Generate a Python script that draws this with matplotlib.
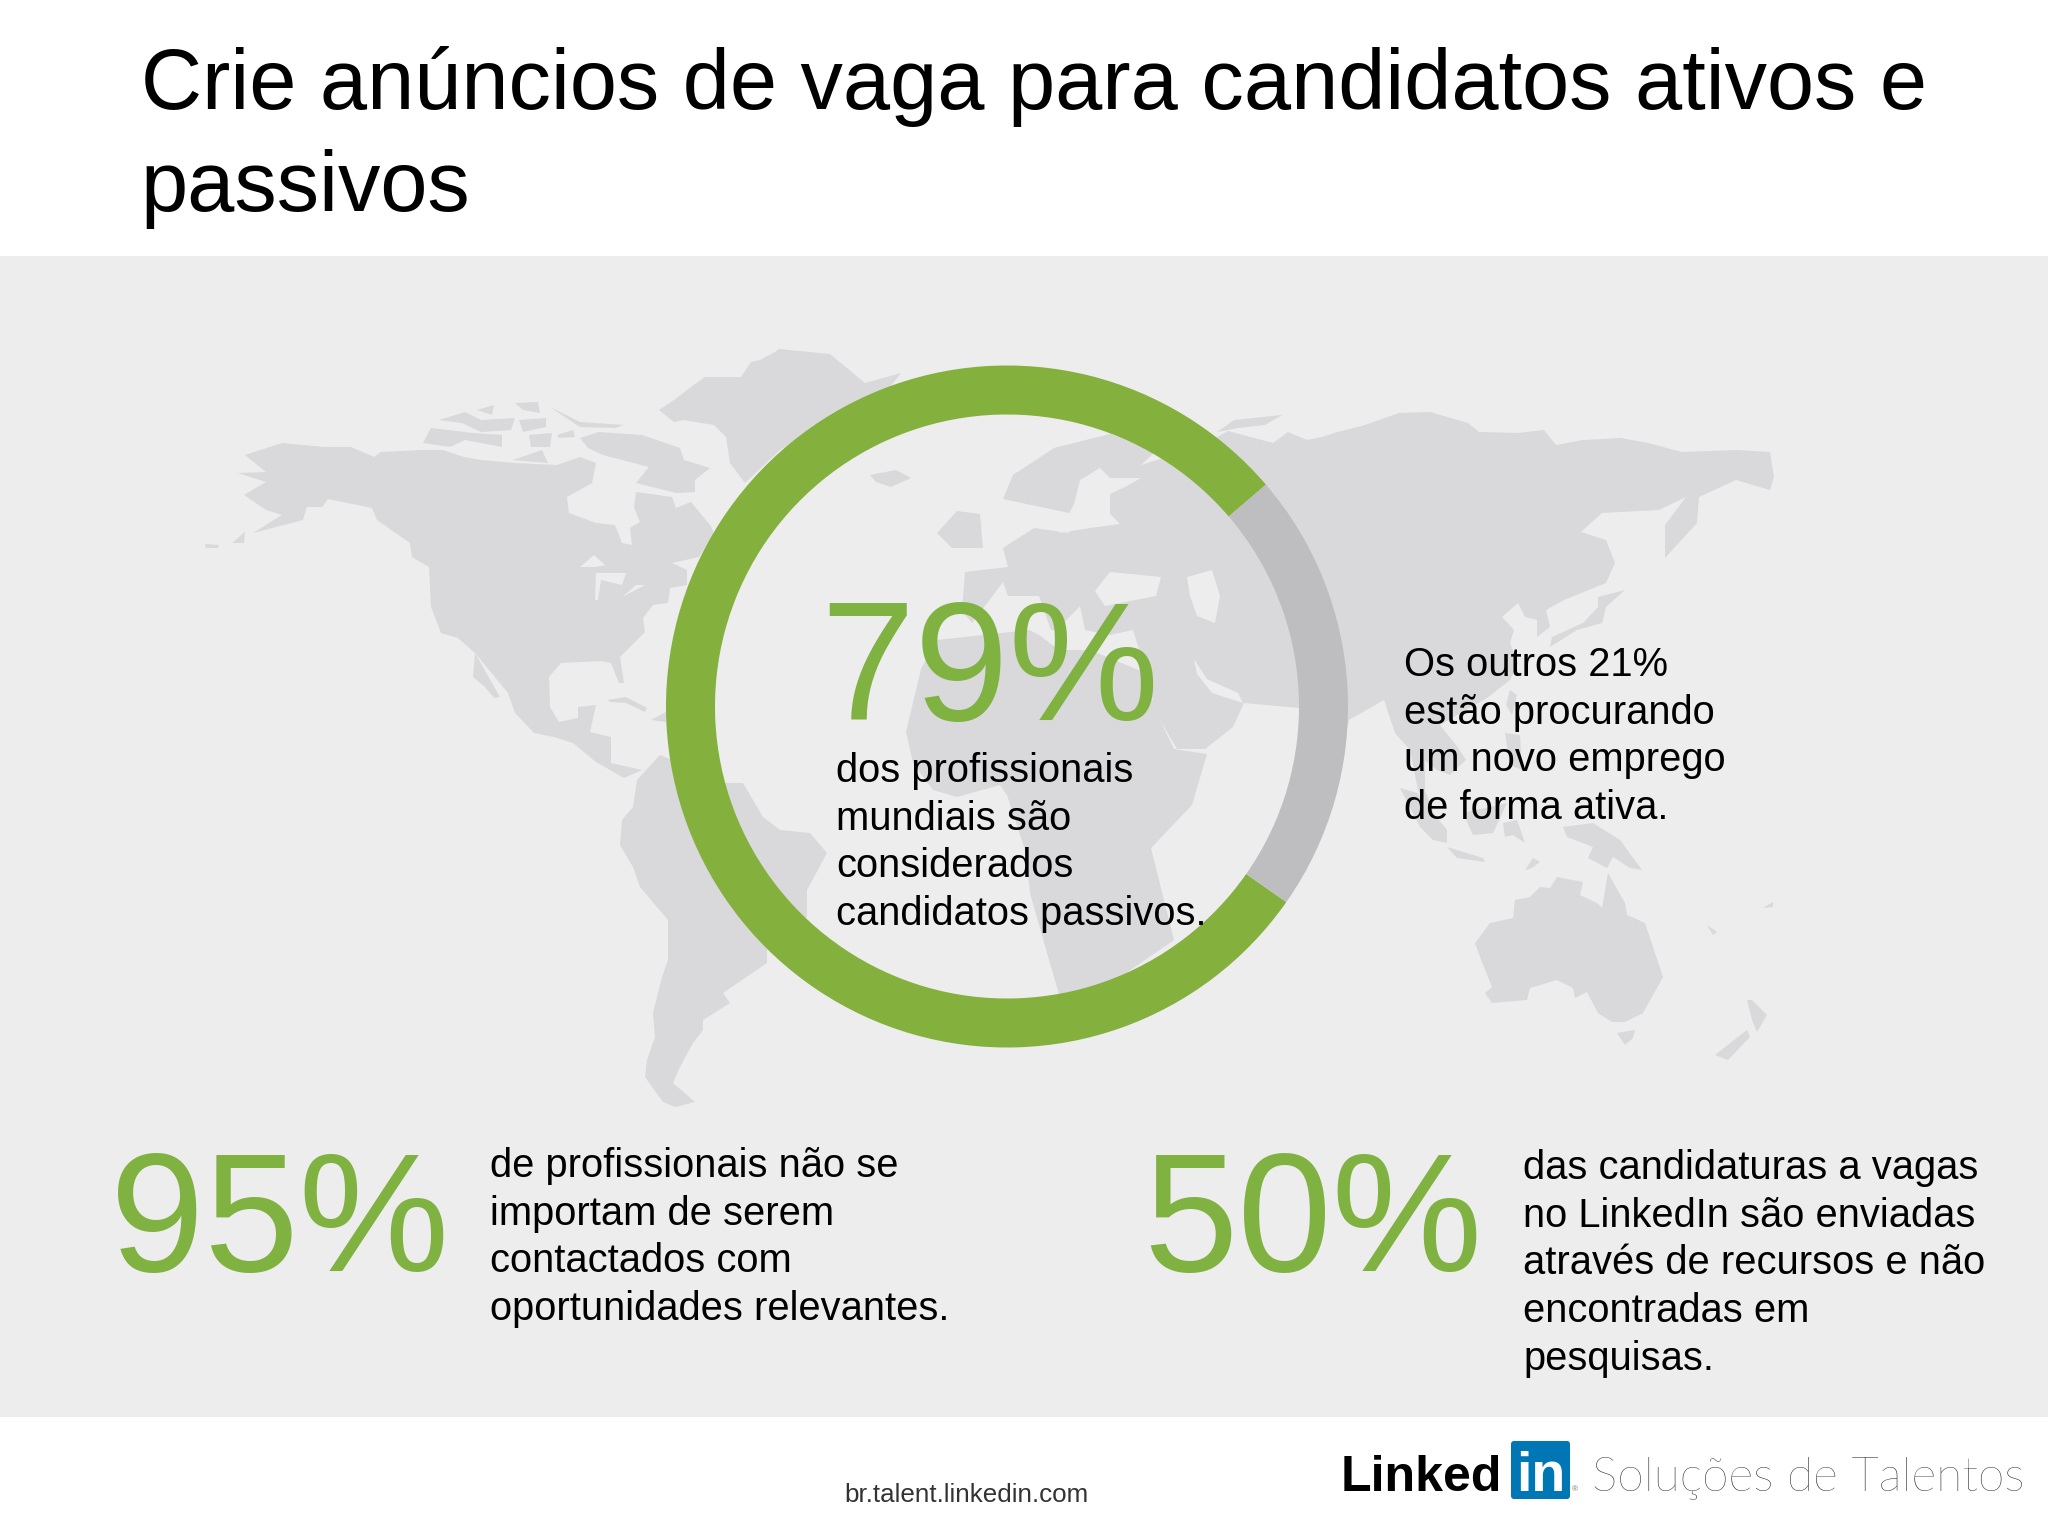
# Recria o infográfico de candidatos passivos
import matplotlib
matplotlib.use('Agg')
import matplotlib.pyplot as plt
from matplotlib.patches import FancyBboxPatch, Polygon

W, H = 2048, 1536

titulo = ['Crie anúncios de vaga para candidatos ativos e', 'passivos']
valores_anel = [79, 21]
texto_79 = ['dos profissionais', 'mundiais são', 'considerados', 'candidatos passivos.']
texto_21 = ['Os outros 21%', 'estão procurando', 'um novo emprego', 'de forma ativa.']
texto_95 = ['de profissionais não se', 'importam de serem', 'contactados com', 'oportunidades relevantes.']
texto_50 = ['das candidaturas a vagas', 'no LinkedIn são enviadas', 'através de recursos e não', 'encontradas em', 'pesquisas.']

# Contornos do mapa (pixels)
america_norte = [(245, 455), (282, 443), (324, 447), (351, 447), (374, 457), (381, 452), (420, 450), (443, 450),
                 (464, 457), (481, 460), (515, 463), (557, 465), (580, 457), (596, 463), (592, 483), (567, 497),
                 (569, 513), (596, 523), (615, 525), (622, 543), (632, 545), (630, 528), (640, 522), (634, 507),
                 (636, 492), (672, 497), (676, 508), (691, 502), (710, 525), (714, 533), (699, 557), (672, 563),
                 (687, 570), (687, 585), (670, 588), (668, 603), (653, 605), (643, 618), (645, 632), (634, 643),
                 (620, 657), (624, 683), (619, 683), (611, 663), (601, 661), (561, 663), (549, 677), (550, 707),
                 (559, 722), (578, 718), (578, 707), (596, 705), (590, 732), (611, 737), (611, 763), (642, 770),
                 (624, 778), (596, 762), (573, 743), (554, 737), (534, 733), (515, 713), (508, 693), (475, 653),
                 (458, 638), (441, 633), (431, 607), (429, 567), (412, 557), (410, 543), (377, 520), (372, 508),
                 (328, 499), (322, 507), (307, 507), (303, 520), (253, 533), (282, 515), (266, 510), (244, 495),
                 (266, 482), (238, 473), (266, 472)]
baja = [(473, 677), (475, 653), (500, 697), (494, 698), (485, 687)]
baffin = [(580, 438), (599, 432), (642, 435), (680, 448), (684, 460), (710, 468), (695, 480), (695, 492), (676, 493),
          (636, 483), (649, 467), (622, 460), (603, 455), (588, 448)]
ilhas_artico = [
    [(550, 407), (580, 422), (624, 425), (615, 428), (580, 427)],
    [(423, 443), (431, 428), (473, 433), (502, 435), (502, 447), (465, 440), (450, 447)],
    [(439, 420), (465, 412), (481, 420), (515, 418), (511, 430), (481, 432), (462, 423)],
    [(519, 420), (546, 418), (546, 427), (523, 432)],
    [(529, 435), (552, 433), (550, 447), (531, 447)],
    [(513, 460), (542, 450), (548, 463)],
    [(515, 403), (538, 402), (540, 413), (523, 410)],
    [(477, 410), (494, 405), (492, 415)],
    [(557, 435), (573, 430), (575, 437), (559, 438)],
]
ilhas_america = [
    [(205, 544), (219, 545), (218, 548), (206, 548)],
    [(232, 543), (245, 532), (244, 543)],
    [(607, 700), (626, 697), (647, 708), (645, 712), (626, 703), (611, 702)],
    [(651, 720), (666, 712), (666, 722)],
]
groenlandia = [(659, 410), (674, 400), (691, 387), (705, 377), (741, 377), (751, 362), (760, 360), (775, 352),
               (779, 349), (830, 354), (865, 383), (901, 373), (880, 400), (830, 420), (780, 450), (745, 483),
               (730, 463), (726, 437), (714, 425), (683, 420), (674, 422)]
islandia = [(870, 475), (896, 470), (911, 478), (891, 487), (876, 482)]
america_sul = [(660, 755), (637, 780), (633, 807), (622, 820), (620, 845), (633, 867), (640, 887), (668, 920),
               (668, 960), (662, 977), (653, 1013), (655, 1037), (647, 1060), (645, 1077), (663, 1102), (675, 1107),
               (695, 1102), (673, 1083), (680, 1067), (693, 1043), (703, 1030), (703, 1020), (730, 1003), (723, 993),
               (767, 963), (767, 950), (807, 917), (807, 890), (827, 853), (810, 833), (780, 830), (763, 817),
               (743, 783), (727, 783), (710, 780), (680, 763)]
africa = [(906, 732), (921, 669), (937, 640), (1029, 630), (1039, 635), (1059, 650), (1090, 650), (1141, 671),
          (1161, 722), (1174, 749), (1207, 754), (1192, 805), (1151, 848), (1174, 940), (1110, 984), (1059, 994),
          (1047, 953), (1030, 893), (1025, 850), (1007, 795), (1000, 785), (957, 797), (933, 790), (913, 763)]
eurasia = [(1146, 671), (1133, 630), (1110, 635), (1085, 630), (1080, 606), (1057, 630), (1051, 630), (1039, 596),
           (1008, 596), (1003, 582), (972, 623), (962, 611), (965, 572), (1008, 567), (1003, 548), (1034, 528),
           (1069, 533), (1074, 514), (1003, 499), (1013, 475), (1054, 448), (1110, 434), (1156, 451), (1141, 465),
           (1202, 446), (1228, 431), (1273, 443), (1288, 432), (1307, 440), (1322, 437), (1334, 433), (1365, 425),
           (1399, 413), (1430, 412), (1468, 423), (1479, 432), (1518, 433), (1544, 430), (1556, 445), (1583, 440),
           (1621, 438), (1648, 443), (1682, 452), (1736, 450), (1770, 452), (1774, 477), (1770, 490), (1736, 480),
           (1699, 497), (1697, 523), (1665, 558), (1665, 525), (1686, 497), (1659, 510), (1602, 513), (1581, 532),
           (1606, 540), (1615, 563), (1606, 583), (1564, 600), (1546, 610), (1550, 627), (1537, 637), (1537, 620),
           (1525, 617), (1518, 603), (1502, 617), (1514, 630), (1510, 643), (1518, 663), (1510, 680), (1487, 698),
           (1462, 712), (1440, 725), (1456, 745), (1466, 760), (1450, 775), (1437, 770), (1425, 760), (1425, 790),
           (1440, 830), (1418, 790), (1410, 750), (1395, 733), (1384, 700), (1349, 720), (1330, 800), (1310, 810),
           (1299, 708), (1244, 703), (1233, 727), (1205, 749), (1177, 749), (1156, 713)]
novaya_zemlya = [(1217, 432), (1234, 420), (1282, 415), (1265, 425), (1238, 428)]
reino_unido = [(937, 533), (957, 511), (980, 514), (983, 548), (952, 548)]
ilhas_asia = [
    [(1598, 597), (1625, 590), (1606, 607), (1602, 623), (1577, 630), (1550, 647), (1552, 637), (1583, 623), (1598, 607)],
    [(1510, 690), (1517, 695), (1512, 715), (1506, 705)],
    [(1505, 733), (1520, 735), (1522, 770), (1510, 765)],
    [(1400, 788), (1417, 793), (1447, 830), (1447, 843), (1433, 840), (1420, 827)],
    [(1447, 847), (1483, 858), (1485, 862), (1457, 858)],
    [(1463, 813), (1507, 803), (1493, 833), (1473, 835)],
    [(1503, 823), (1517, 820), (1525, 843), (1513, 835), (1505, 837)],
    [(1563, 827), (1593, 823), (1620, 840), (1642, 870), (1630, 868), (1613, 857), (1607, 868), (1588, 858), (1593, 847), (1567, 837)],
    [(1525, 870), (1533, 858), (1540, 862), (1532, 868)],
    [(1123, 812), (1130, 815), (1126, 832), (1121, 830)],
]
australia = [(1475, 943), (1490, 923), (1513, 918), (1515, 900), (1530, 897), (1540, 887), (1550, 888), (1557, 877),
             (1583, 882), (1580, 895), (1597, 903), (1602, 908), (1608, 873), (1625, 903), (1627, 915), (1645, 923),
             (1663, 977), (1643, 1013), (1625, 1022), (1612, 1022), (1598, 1013), (1587, 992), (1575, 998), (1573, 988),
             (1557, 980), (1530, 988), (1527, 1000), (1492, 1003), (1485, 993), (1492, 987), (1480, 957)]
ilhas_oceania = [
    [(1617, 1033), (1635, 1030), (1633, 1038), (1625, 1045)],
    [(1747, 1000), (1752, 1000), (1767, 1015), (1757, 1032), (1752, 1020)],
    [(1715, 1055), (1747, 1030), (1750, 1037), (1728, 1060)],
    [(1763, 908), (1773, 902), (1773, 907)],
    [(1707, 925), (1717, 932), (1713, 935)],
]
# Mares e lagos por cima da terra
mares = [
    [(1059, 533), (1074, 504), (1080, 480), (1100, 468), (1110, 478), (1141, 478), (1125, 487), (1110, 494), (1110, 514), (1120, 524), (1090, 528)],
    [(1110, 572), (1161, 577), (1156, 596), (1105, 606), (1095, 591)],
    [(1187, 577), (1212, 570), (1220, 596), (1215, 623), (1197, 616), (1190, 596)],
    [(1194, 659), (1207, 679), (1238, 693), (1243, 703), (1212, 693), (1197, 674)],
    [(596, 573), (626, 573), (622, 585), (601, 580), (598, 600), (595, 600)],
    [(619, 600), (636, 585), (645, 585), (622, 597)],
    [(580, 567), (594, 555), (605, 565), (596, 567)],
]

terras = [america_norte, baja, baffin, groenlandia, islandia, america_sul, africa, eurasia,
          novaya_zemlya, reino_unido, australia] + ilhas_artico + ilhas_america + ilhas_asia + ilhas_oceania

# Cores
cinza_fundo = '#EDEDEE'
cinza_terra = '#D9D9DB'
verde_anel = '#84B03D'
verde_texto = '#7FB241'
cinza_anel = '#BEBDC0'
azul_in = '#0077B5'

plt.rcParams['font.family'] = ['Liberation Sans', 'DejaVu Sans']

fig = plt.figure(figsize=(W / 100, H / 100), dpi=100, facecolor='white')

# Fundo e mapa
ax = fig.add_axes([0, 0, 1, 1], zorder=0)
ax.set_xlim(0, W)
ax.set_ylim(H, 0)
ax.axis('off')
ax.axhspan(256, 1417, color=cinza_fundo, lw=0)
for contorno in terras:
    ax.add_patch(Polygon(contorno, closed=True, fc=cinza_terra, ec='none'))
for contorno in mares:
    ax.add_patch(Polygon(contorno, closed=True, fc=cinza_fundo, ec='none'))

# Anel
cx, cy, raio = 1007, 706.5, 341
ax_anel = fig.add_axes([(cx - raio) / W, 1 - (cy + raio) / H, 2 * raio / W, 2 * raio / H], zorder=1)
ax_anel.pie(valores_anel, colors=[verde_anel, cinza_anel], startangle=40.6, radius=1,
            wedgeprops=dict(width=49 / raio, linewidth=0))
ax_anel.set_xlim(-1, 1)
ax_anel.set_ylim(-1, 1)

# Textos
tx = fig.add_axes([0, 0, 1, 1], zorder=2)
tx.set_xlim(0, W)
tx.set_ylim(H, 0)
tx.axis('off')
tx.patch.set_alpha(0)


def bloco(linhas, x, y, passo=47.7, size=28.7):
    for i, linha in enumerate(linhas):
        tx.text(x, y + i * passo, linha, fontsize=size, color='black', ha='left', va='baseline')


for i, linha in enumerate(titulo):
    tx.text(141, 109 + i * 102, linha, fontsize=61, color='black', ha='left', va='baseline')

tx.text(820, 720, '79%', fontsize=122, color=verde_texto, ha='left', va='baseline')
tx.text(110, 1271, '95%', fontsize=122, color=verde_texto, ha='left', va='baseline')
tx.text(1143, 1271, '50%', fontsize=122, color=verde_texto, ha='left', va='baseline')

bloco(texto_79, 836, 782)
bloco(texto_21, 1404, 676)
bloco(texto_95, 490, 1177)
bloco(texto_50, 1523, 1179)

tx.text(844, 1502, 'br.talent.linkedin.com', fontsize=18.7, color='#333333', ha='left', va='baseline')

# Logo
tx.text(1341, 1491, 'Linked', fontsize=36, fontweight='bold', color='black', ha='left', va='baseline')
tx.add_patch(FancyBboxPatch((1511, 1441), 59, 58, boxstyle='round,pad=0,rounding_size=3', fc=azul_in, ec='none'))
tx.text(1541, 1491, 'in', fontsize=40, fontweight='bold', color='white', ha='center', va='baseline')
tx.text(1572, 1491, '®', fontsize=6, color='#777777', ha='left', va='baseline')
tx.text(1592, 1491, 'Soluções de Talentos', fontsize=34.6, fontweight='light', family=['Lato', 'DejaVu Sans'],
        color='#1F1F1F', ha='left', va='baseline')

fig.savefig('out.png', dpi=100, facecolor='white')
